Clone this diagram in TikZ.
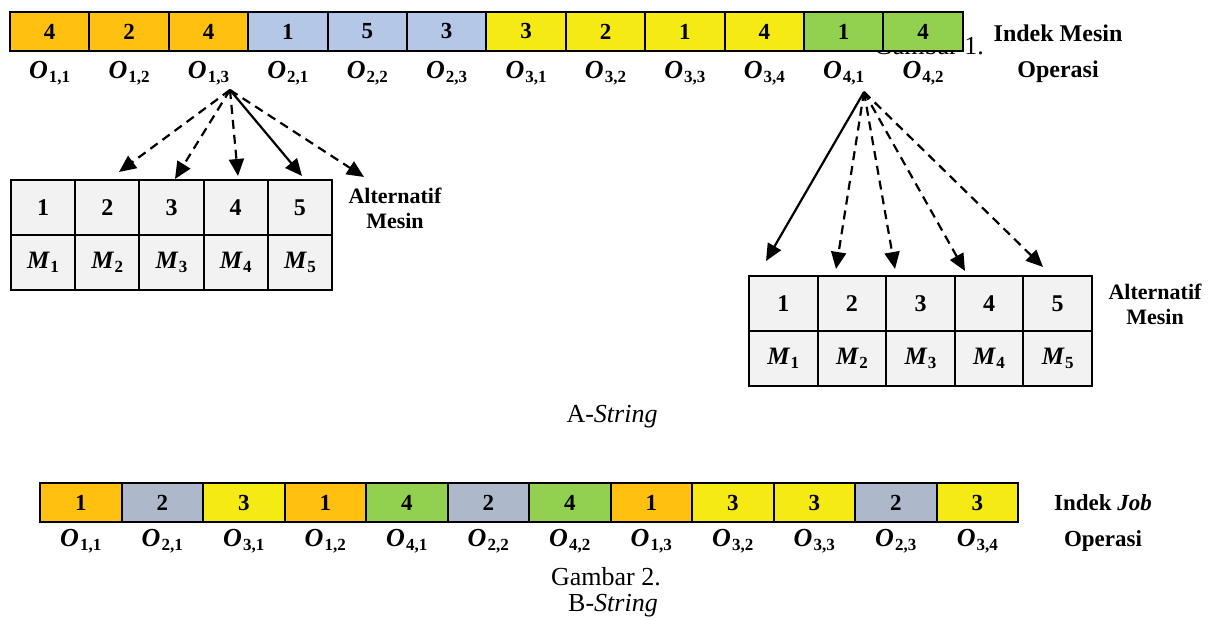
\documentclass[tikz,border=0pt]{standalone}
\usepackage{fontspec}
\setmainfont{Liberation Serif}
\usetikzlibrary{arrows.meta}
\definecolor{corange}{HTML}{FFC010}
\definecolor{cblue}{HTML}{B4C7E7}
\definecolor{cyellow}{HTML}{F5EA14}
\definecolor{cgreen}{HTML}{92D050}
\definecolor{cgray}{HTML}{ADB9CA}
\definecolor{ctab}{HTML}{F2F2F2}
\newcommand{\Op}[1]{{\fontsize{26}{26}\selectfont\bfseries\itshape O}\kern1pt\raisebox{-4.5pt}{\fontsize{17}{17}\selectfont\bfseries #1}}
\newcommand{\Mc}[1]{{\fontsize{25}{25}\selectfont\bfseries\itshape M}\kern1pt\raisebox{-4.5pt}{\fontsize{17}{17}\selectfont\bfseries #1}}
\begin{document}
\begin{tikzpicture}[x=1pt,y=-1pt,
  cellA/.style={draw,line width=2pt,minimum width=79.4pt,minimum height=39pt,inner sep=0pt,font=\fontsize{23}{23}\selectfont\bfseries},
  cellB/.style={draw,line width=2pt,minimum width=81.5pt,minimum height=39pt,inner sep=0pt,font=\fontsize{23}{23}\selectfont\bfseries},
  tabL/.style={draw,line width=2pt,fill=ctab,minimum width=64.2pt,minimum height=55pt,inner sep=0pt,font=\fontsize{24}{24}\selectfont\bfseries},
  tabR/.style={draw,line width=2pt,fill=ctab,minimum width=68.6pt,minimum height=55pt,inner sep=0pt,font=\fontsize{24}{24}\selectfont\bfseries},
  oplab/.style={inner sep=0pt},
  sidelab/.style={font=\fontsize{24}{24}\selectfont\bfseries,inner sep=0pt,align=center},
  altlab/.style={font=\fontsize{22}{25}\selectfont\bfseries,inner sep=0pt,align=center},
  caplab/.style={font=\fontsize{26}{26}\selectfont,inner sep=0pt,anchor=base},
  arr/.style={line width=2.2pt,-{Triangle[length=17pt,width=15pt]}},
  darr/.style={arr,dash pattern=on 9pt off 6pt}]
\useasboundingbox (0,0) rectangle (1212,620);
% caption hidden behind cells
\node[caplab,text depth=0pt] (cap1) at (929,55) {Gambar 1.};
% top row
\foreach \v/\c [count=\i] in {4/corange,2/corange,4/corange,1/cblue,5/cblue,3/cblue,3/cyellow,2/cyellow,1/cyellow,4/cyellow,1/cgreen,4/cgreen}{
  \node[cellA,fill=\c] (t\i) at ({10+79.4*(\i-0.5)},31.5) {\v};
}
\foreach \s [count=\i] in {{1,1},{1,2},{1,3},{2,1},{2,2},{2,3},{3,1},{3,2},{3,3},{3,4},{4,1},{4,2}}{
  \node[oplab] (ot\i) at (t\i.south |- 0,73) {\Op{\s}};
}
\node[sidelab] (im) at (1058,33) {Indek Mesin};
\node[sidelab] (op1) at (1058,72) {Operasi};
% left table
\foreach \i in {1,...,5}{
  \node[tabL] (la\i) at ({11+64.2*(\i-0.5)},207.5) {\i};
  \node[tabL] (lb\i) at ({11+64.2*(\i-0.5)},262.5) {\Mc{\i}};
}
\node[altlab] (altL) at (395,208) {Alternatif\\Mesin};
% right table
\foreach \i in {1,...,5}{
  \node[tabR] (ra\i) at ({749+68.6*(\i-0.5)},303.5) {\i};
  \node[tabR] (rb\i) at ({749+68.6*(\i-0.5)},358.5) {\Mc{\i}};
}
\node[altlab] (altR) at (1155,304) {Alternatif\\Mesin};
% arrows left
\coordinate (sL) at (230,90);
\coordinate (eL1) at (119,172);
\coordinate (eL2) at (175,179);
\coordinate (eL3) at (238,176);
\coordinate (eL4) at (302,176);
\coordinate (eL5) at (364,177);
\draw[darr] (sL) -- (eL1);
\draw[darr] (sL) -- (eL2);
\draw[darr] (sL) -- (eL3);
\draw[arr] (sL) -- (eL4);
\draw[darr] (sL) -- (eL5);
% arrows right
\coordinate (sR) at (864,92);
\coordinate (eR1) at (766,261);
\coordinate (eR2) at (836,269);
\coordinate (eR3) at (895,269);
\coordinate (eR4) at (965,271);
\coordinate (eR5) at (1043,267);
\draw[arr] (sR) -- (eR1);
\draw[darr] (sR) -- (eR2);
\draw[darr] (sR) -- (eR3);
\draw[darr] (sR) -- (eR4);
\draw[darr] (sR) -- (eR5);
\node[caplab] (capA) at (612,422) {A-\textit{String}};
% bottom row
\foreach \v/\c [count=\i] in {1/corange,2/cgray,3/cyellow,1/corange,4/cgreen,2/cgray,4/cgreen,1/corange,3/cyellow,3/cyellow,2/cgray,3/cyellow}{
  \node[cellB,fill=\c] (b\i) at ({40+81.5*(\i-0.5)},502.5) {\v};
}
\foreach \s [count=\i] in {{1,1},{2,1},{3,1},{1,2},{4,1},{2,2},{4,2},{1,3},{3,2},{3,3},{2,3},{3,4}}{
  \node[oplab] (ob\i) at (b\i.south |- 0,541) {\Op{\s}};
}
\node[sidelab,font=\fontsize{23}{23}\selectfont\bfseries] (ij) at (1103,503) {Indek \textit{Job}};
\node[sidelab,font=\fontsize{23}{23}\selectfont\bfseries] (op2) at (1103,541) {Operasi};
\node[caplab] (cap2) at (606,585) {Gambar 2.};
\node[caplab] (capB) at (613,611) {B-\textit{String}};
\end{tikzpicture}
\end{document}
